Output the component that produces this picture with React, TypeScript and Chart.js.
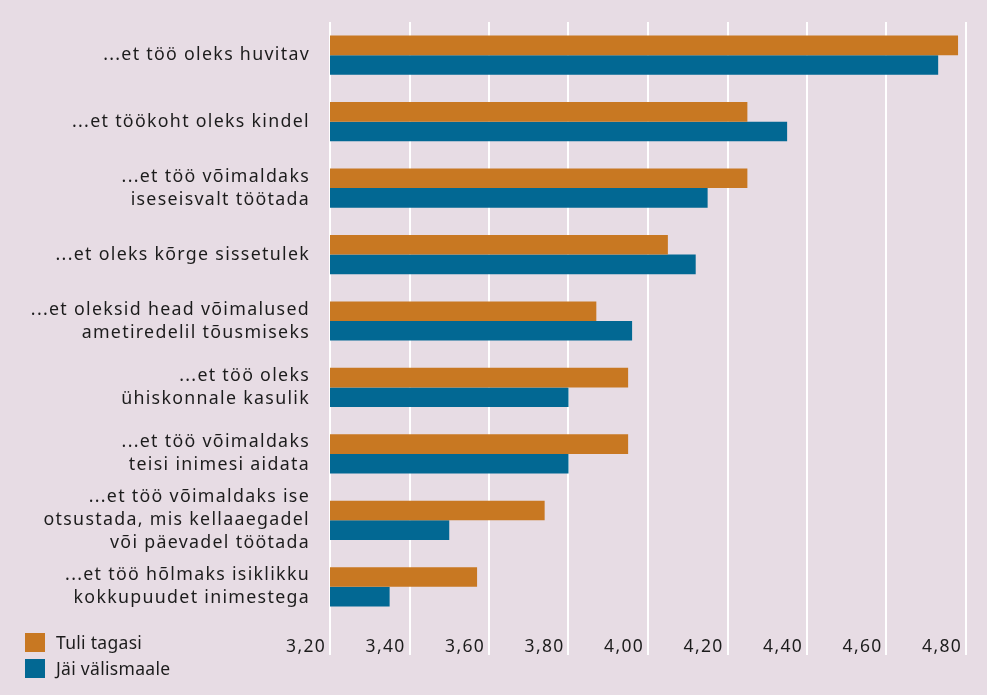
import React, { useEffect, useRef } from "react";
import { Chart, registerables } from "chart.js";

Chart.register(...registerables);

const categories: (string | string[])[] = [
  "...et töö oleks huvitav",
  "...et töökoht oleks kindel",
  ["...et töö võimaldaks", "iseseisvalt töötada"],
  "...et oleks kõrge sissetulek",
  ["...et oleksid head võimalused", "ametiredelil tõusmiseks"],
  ["...et töö oleks", "ühiskonnale kasulik"],
  ["...et töö võimaldaks", "teisi inimesi aidata"],
  ["...et töö võimaldaks ise", "otsustada, mis kellaaegadel", "või päevadel töötada"],
  ["...et töö hõlmaks isiklikku", "kokkupuudet inimestega"],
];

const tuliTagasi = [4.78, 4.25, 4.25, 4.05, 3.87, 3.95, 3.95, 3.74, 3.57];
const jaiValismaale = [4.73, 4.35, 4.15, 4.12, 3.96, 3.8, 3.8, 3.5, 3.35];

const seriesNames = ["Tuli tagasi", "Jäi välismaale"];
const seriesColors = ["#C87822", "#026893"];

const BG = "#E7DCE4";
const TEXT = "#1c1c1c";
const FONT = "'Noto Sans', 'Open Sans', sans-serif";

const spacingPlugin = {
  id: "letterSpacing",
  beforeLayout(chart: any) {
    chart.ctx.letterSpacing = "1.3px";
  },
  beforeDraw(chart: any) {
    chart.ctx.letterSpacing = "1.3px";
  },
};

export default function App() {
  const canvasRef = useRef<HTMLCanvasElement | null>(null);

  useEffect(() => {
    if (!canvasRef.current) return;
    const chart = new Chart(canvasRef.current, {
      type: "bar",
      data: {
        labels: categories,
        datasets: [
          {
            label: seriesNames[0],
            data: tuliTagasi,
            backgroundColor: seriesColors[0],
            borderWidth: 0,
            barPercentage: 1,
            categoryPercentage: 0.59,
          },
          {
            label: seriesNames[1],
            data: jaiValismaale,
            backgroundColor: seriesColors[1],
            borderWidth: 0,
            barPercentage: 1,
            categoryPercentage: 0.59,
          },
        ],
      },
      plugins: [spacingPlugin],
      options: {
        indexAxis: "y",
        animation: false,
        responsive: false,
        maintainAspectRatio: false,
        layout: { padding: { top: 22, right: 21, bottom: 35, left: 0 } },
        plugins: {
          legend: { display: false },
          tooltip: { enabled: false },
        },
        scales: {
          x: {
            type: "linear",
            min: 3.2,
            max: 4.8,
            border: { display: false },
            grid: {
              color: "#ffffff",
              lineWidth: 2,
              drawTicks: true,
              tickLength: 35,
              tickColor: "#ffffff",
            },
            afterFit: (scale: any) => {
              scale.height = 40;
            },
            ticks: {
              stepSize: 0.2,
              align: "end",
              labelOffset: -4,
              padding: -18,
              autoSkip: false,
              maxRotation: 0,
              color: TEXT,
              font: { family: FONT, size: 17.5 },
              callback: (v: any) => Number(v).toFixed(2).replace(".", ","),
            },
          },
          y: {
            type: "category",
            border: { display: false },
            grid: { display: false, drawTicks: false },
            afterFit: (scale: any) => {
              scale.width = 330;
              scale.paddingTop = 0;
              scale.paddingBottom = 0;
            },
            ticks: {
              padding: 20,
              autoSkip: false,
              color: TEXT,
              font: { family: FONT, size: 17.8, lineHeight: 1.29 },
            },
          },
        },
      },
    });
    return () => chart.destroy();
  }, []);

  return (
    <div
      style={{
        position: "absolute",
        left: 0,
        top: 0,
        width: 987,
        height: 695,
        background: BG,
        fontFamily: FONT,
      }}
    >
      <canvas ref={canvasRef} width={987} height={695} style={{ display: "block" }} />
      <div
        style={{
          position: "absolute",
          left: 25,
          top: 629,
          color: TEXT,
          fontSize: 17.5,
          letterSpacing: "0.3px",
        }}
      >
        {seriesNames.map((name, i) => (
          <div key={name} style={{ display: "flex", alignItems: "center", height: 26 }}>
            <span
              style={{
                display: "inline-block",
                width: 20,
                height: 19,
                background: seriesColors[i],
                marginRight: 11,
              }}
            />
            <span style={{ lineHeight: "19px" }}>{name}</span>
          </div>
        ))}
      </div>
    </div>
  );
}
